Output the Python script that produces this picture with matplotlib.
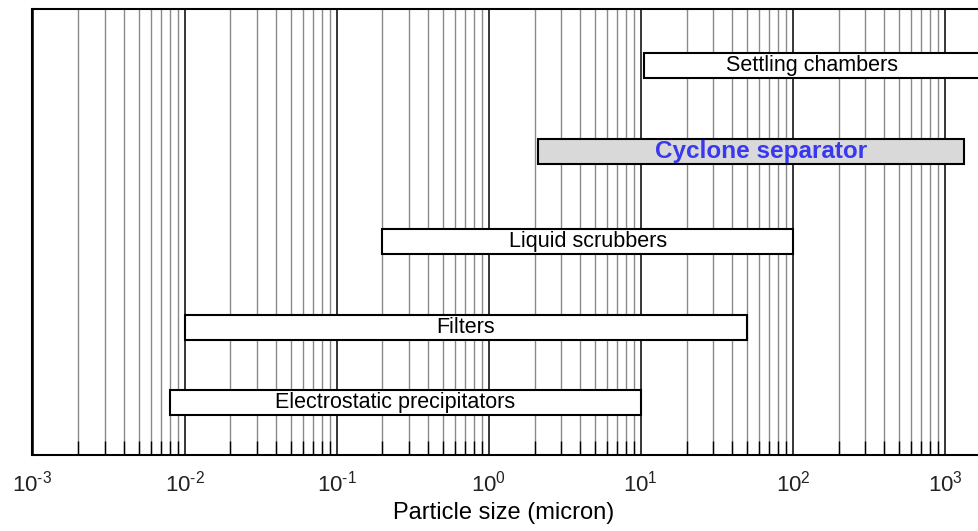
import matplotlib
matplotlib.use("Agg")
import matplotlib.pyplot as plt
from matplotlib.ticker import LogLocator, FixedLocator

plt.rcParams["font.family"] = ["Liberation Sans", "DejaVu Sans"]
plt.rcParams["mathtext.fontset"] = "custom"
plt.rcParams["mathtext.rm"] = "Liberation Sans"
plt.rcParams["mathtext.it"] = "Liberation Sans"

# equipment and the particle size range each one handles (micron)
devices = [
    "Electrostatic precipitators",
    "Filters",
    "Liquid scrubbers",
    "Cyclone separator",
    "Settling chambers",
]
size_min = [0.008, 0.01, 0.2, 2.1, 10.5]
size_max = [10.0, 50.0, 100.0, 1330.0, 2000.0]
row_pos = [0.61, 1.49, 2.49, 3.54, 4.54]

decades = [1e-3, 1e-2, 1e-1, 1e0, 1e1, 1e2, 1e3]
tick_labels = [r"$10^{\text{-}3}$", r"$10^{\text{-}2}$", r"$10^{\text{-}1}$",
               "$10^{0}$", "$10^{1}$", "$10^{2}$", "$10^{3}$"]

W, H = 979, 531
fig = plt.figure(figsize=(W / 100, H / 100), dpi=100)
left_px, right_px, top_px, bottom_px = 32.5, 990.8, 9, 455
ax = fig.add_axes([left_px / W, (H - bottom_px) / H,
                   (right_px - left_px) / W, (bottom_px - top_px) / H])

ax.set_xscale("log")
ax.set_xlim(1e-3, 2000)
ax.set_ylim(0, 5.2)

ax.xaxis.set_major_locator(FixedLocator(decades))
ax.xaxis.set_minor_locator(LogLocator(base=10, subs=range(2, 10), numticks=20))
ax.set_xticks(decades)
ax.set_xticklabels(tick_labels, fontsize=16, color="#222222")
ax.set_yticks([])

ax.grid(True, which="minor", axis="x", color="#8a8a8a", linewidth=1.0)
ax.grid(True, which="major", axis="x", color="black", linewidth=1.1)
ax.set_axisbelow(True)

ax.tick_params(axis="x", which="both", direction="in", top=False, pad=11)
ax.tick_params(axis="x", which="major", length=0)
ax.tick_params(axis="x", which="minor", length=10, width=1.0, color="black")

for s in ax.spines.values():
    s.set_linewidth(1.5)

for name, lo, hi, y in zip(devices, size_min, size_max, row_pos):
    cyclone = name == "Cyclone separator"
    ax.barh(y, hi - lo, left=lo, height=0.29,
            color="#d9d9d9" if cyclone else "white",
            edgecolor="black", linewidth=1.5, zorder=3)
    xc = (lo * min(hi, 1700)) ** 0.5
    if cyclone:
        ax.text(xc * 1.17, y, name, ha="center", va="center", fontsize=17.5,
                fontweight="bold", color="#3838f0", zorder=4)
    else:
        if name.startswith("Electrostatic"):
            xc *= 0.86
        ax.text(xc, y, name, ha="center", va="center", fontsize=15.5,
                color="black", zorder=4)

ax.set_xlabel("Particle size (micron)", fontsize=17)
ax.xaxis.set_label_coords((504 - left_px) / (right_px - left_px), -0.105)

fig.savefig("out.png", dpi=100)
